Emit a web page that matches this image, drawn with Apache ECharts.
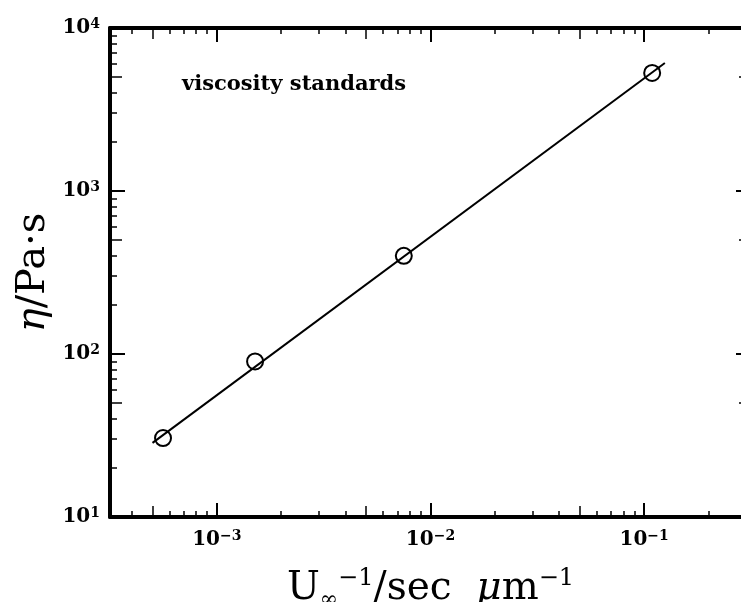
<!DOCTYPE html>
<html>
<head>
<meta charset="utf-8">
<script src="https://cdn.jsdelivr.net/npm/echarts@6/dist/echarts.min.js"></script>
<style>
    html, body { margin: 0; padding: 0; background: #fff; }
    #main { width: 741px; height: 602px; }
</style>
</head>
<body>
<div id="main"></div>
<script>
// measured viscosity standards
var invVelocity = [5.6e-4, 1.51e-3, 7.5e-3, 0.109];   // U_inf^-1, sec/um
var viscosity = [30.5, 90, 400, 5300];                 // Pa s
// straight fit line, its two ends
var fitX = [5.0e-4, 0.125];
var fitY = [28.5, 6100];

// axis ranges and decade labels (log10 of value)
var xRange = [-3.5, -0.5];
var yRange = [1, 4];
var xDecades = [-3, -2, -1];
var yDecades = [1, 2, 3, 4];

// tick positions in log10 space: majors, the 5x ones, and the rest
function tickSet(range, mults) {
    var out = [];
    for (var d = Math.floor(range[0]); d <= Math.ceil(range[1]); d++) {
        mults.forEach(function (m) {
            var v = d + Math.log10(m);
            if (v >= range[0] - 1e-9 && v <= range[1] + 1e-9) out.push(v);
        });
    }
    return out;
}
var minorMults = [2, 3, 4, 6, 7, 8, 9];

var labelRich = {
    b: { fontFamily: 'DejaVu Serif', fontWeight: 'bold', fontSize: 20, lineHeight: 22, color: '#000' },
    s: { fontFamily: 'DejaVu Serif', fontWeight: 'bold', fontSize: 14, lineHeight: 8, verticalAlign: 'top', color: '#000' }
};
function powLabel(v) {
    return '{b|10}{s|' + Math.round(v).toString().replace('-', '\u2212') + '}';
}

function tickAxis(pos, range, ticks, len, width, extra) {
    var a = {
        type: 'value',
        position: pos,
        min: range[0],
        max: range[1],
        axisLine: { show: false },
        splitLine: { show: false },
        axisLabel: { show: false },
        axisTick: { show: true, inside: true, length: len, customValues: ticks,
                    lineStyle: { color: '#000', width: width } }
    };
    if (extra) Object.assign(a, extra);
    return a;
}

var chart = echarts.init(document.getElementById('main'));

var xAxes = [
    {
        type: 'log', position: 'bottom',
        min: Math.pow(10, xRange[0]), max: Math.pow(10, xRange[1]),
        name: '{u|U}{sub|\u221e}{sup|\u22121}{u|/sec  }{mu|\u03bc}{u|m}{sup|\u22121}',
        nameLocation: 'middle', nameGap: 50,
        nameTextStyle: {
            rich: {
                u: { fontFamily: 'DejaVu Serif', fontSize: 39, lineHeight: 44, color: '#000' },
                mu: { fontFamily: 'DejaVu Serif', fontStyle: 'italic', fontSize: 39, lineHeight: 44, color: '#000' },
                sup: { fontFamily: 'DejaVu Serif', fontSize: 24, lineHeight: 22, verticalAlign: 'top', color: '#000' },
                sub: { fontFamily: 'DejaVu Serif', fontSize: 22, lineHeight: 12, verticalAlign: 'bottom', color: '#000' }
            }
        },
        axisLine: { show: true, lineStyle: { color: '#000', width: 4 } },
        axisTick: { show: false },
        axisLabel: { show: false },
        splitLine: { show: false }
    },
    tickAxis('bottom', xRange, xDecades, 14, 2, {
        axisLabel: { show: true, customValues: xDecades, margin: 12, formatter: powLabel, rich: labelRich }
    }),
    tickAxis('bottom', xRange, tickSet(xRange, [5]), 11, 1.5),
    tickAxis('bottom', xRange, tickSet(xRange, minorMults), 6, 1.5),
    tickAxis('top', xRange, xDecades, 14, 2, {
        axisLine: { show: true, lineStyle: { color: '#000', width: 4 } }
    }),
    tickAxis('top', xRange, tickSet(xRange, [5]), 11, 1.5),
    tickAxis('top', xRange, tickSet(xRange, minorMults), 6, 1.5)
];

var yAxes = [
    {
        type: 'log', position: 'left',
        min: Math.pow(10, yRange[0]), max: Math.pow(10, yRange[1]),
        name: '{eta|\u03b7}{t|/Pa\u00b7s}',
        nameLocation: 'middle', nameGap: 56,
        nameTextStyle: {
            rich: {
                eta: { fontFamily: 'DejaVu Serif', fontStyle: 'italic', fontSize: 40, color: '#000' },
                t: { fontFamily: 'DejaVu Serif', fontSize: 40, color: '#000' }
            }
        },
        axisLine: { show: true, lineStyle: { color: '#000', width: 4 } },
        axisTick: { show: false },
        axisLabel: { show: false },
        splitLine: { show: false }
    },
    tickAxis('left', yRange, yDecades, 15, 2, {
        axisLabel: { show: true, customValues: yDecades, margin: 10, formatter: powLabel, rich: labelRich }
    }),
    tickAxis('left', yRange, tickSet(yRange, [5]), 12, 1.5),
    tickAxis('left', yRange, tickSet(yRange, minorMults), 7, 1.5),
    tickAxis('right', yRange, yDecades, 15, 2, {
        axisLine: { show: true, lineStyle: { color: '#000', width: 4 } }
    }),
    tickAxis('right', yRange, tickSet(yRange, [5]), 12, 1.5),
    tickAxis('right', yRange, tickSet(yRange, minorMults), 7, 1.5)
];

var points = invVelocity.map(function (x, i) { return [x, viscosity[i]]; });
var fitLine = fitX.map(function (x, i) { return [x, fitY[i]]; });

var option = {
    animation: false,
    backgroundColor: '#fff',
    grid: { left: 110, top: 28, width: 641, height: 489, outerBoundsMode: 'none', containLabel: false },
    graphic: [{
        type: 'text', left: 182, top: 74,
        style: { text: 'viscosity standards', font: 'bold 21px "DejaVu Serif"', fill: '#000' }
    }],
    xAxis: xAxes,
    yAxis: yAxes,
    series: [
        {
            name: 'fit',
            type: 'line',
            data: fitLine,
            xAxisIndex: 0, yAxisIndex: 0,
            showSymbol: false,
            lineStyle: { color: '#000', width: 2 }
        },
        {
            name: 'standards',
            type: 'scatter',
            data: points,
            xAxisIndex: 0, yAxisIndex: 0,
            symbol: 'circle',
            symbolSize: 16,
            itemStyle: { color: 'rgba(0,0,0,0)', borderColor: '#000', borderWidth: 2, opacity: 1 }
        }
    ]
};
chart.setOption(option);
</script>
</body>
</html>
